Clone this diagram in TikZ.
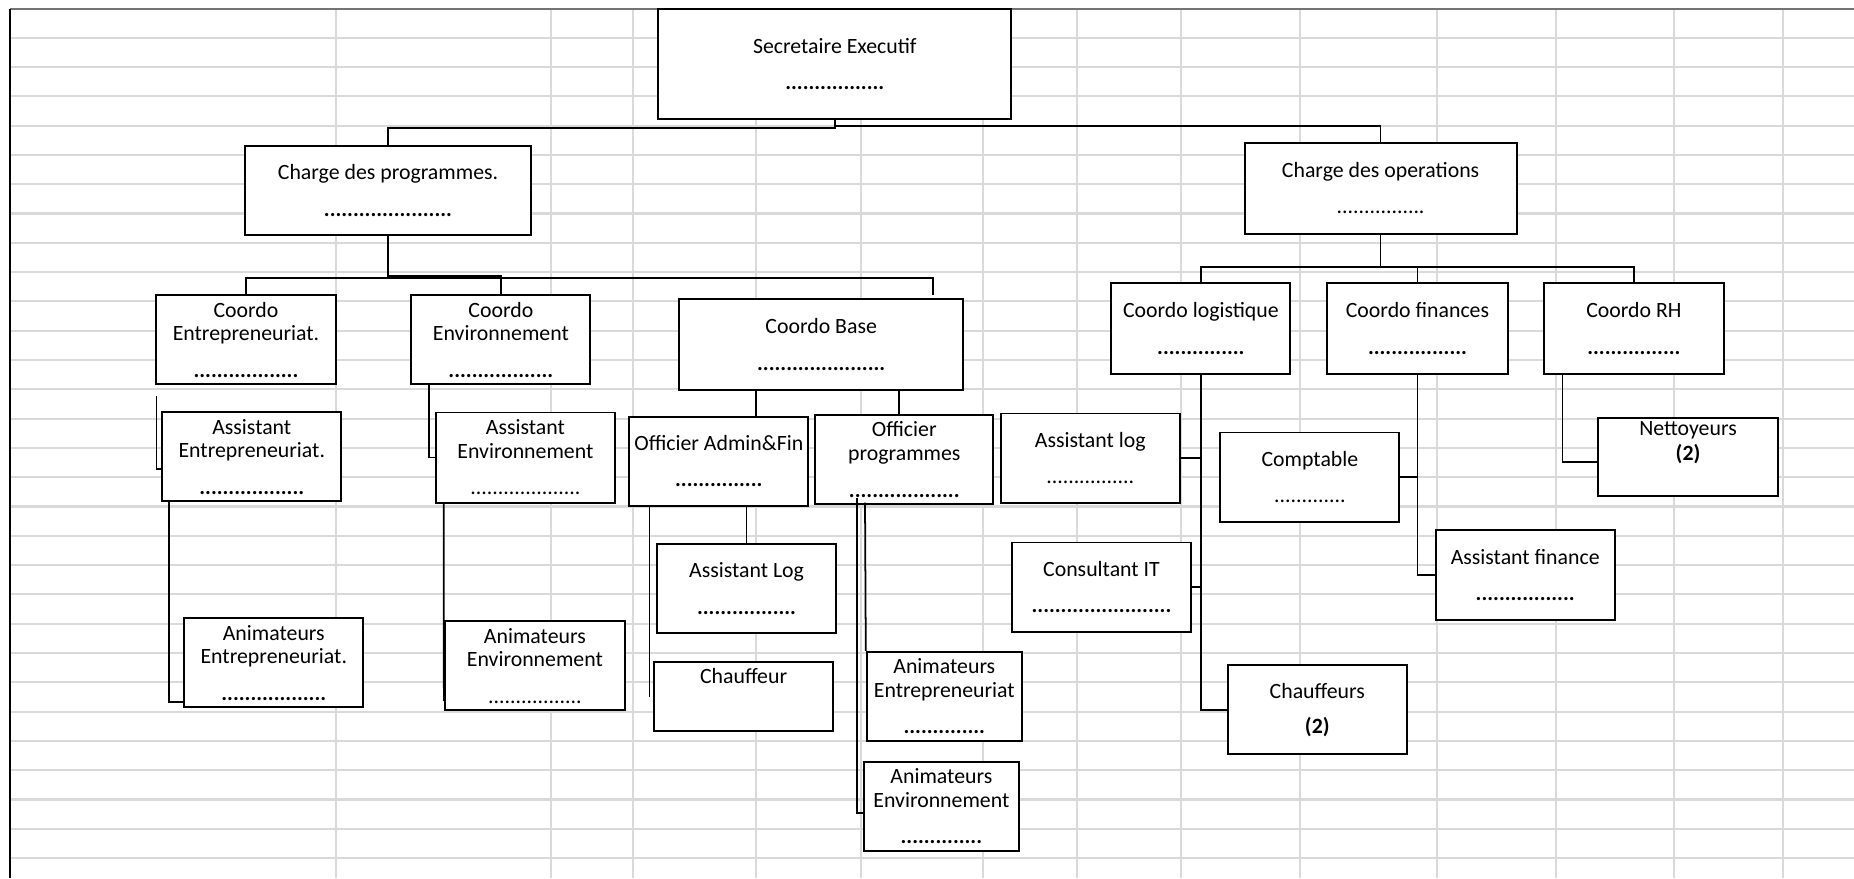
\documentclass[tikz,border=0pt]{standalone}
\usepackage{fontspec}
\setmainfont{Carlito}
\tikzset{
  box/.style={draw, fill=white, line width=0.55pt, align=center, inner sep=1pt,
    minimum width=1.79cm, minimum height=0.89cm, font=\fontsize{6.2}{6.7}\selectfont},
  link/.style={line width=0.5pt},
  gridline/.style={draw=black!15, line width=0.6pt}
}
\begin{document}
\begin{tikzpicture}[x=0.01cm, y=-0.01cm]
  \useasboundingbox (0,0) rectangle (1854,878);
  % sheet grid
  \foreach \k in {0,...,28}
    \draw[gridline] (10,37.7+29.3*\k) -- (1854,37.7+29.3*\k);
  \foreach \x in {336,551,633,756,861,983,1077,1181,1300,1437,1556,1674,1783}
    \draw[gridline] (\x,9) -- (\x,878);
  \draw[black!55, line width=0.6pt] (10,9.3) -- (1854,9.3);
  \draw[line width=0.6pt] (10,9) -- (10,878);
  % boxes
  \draw
    (834.8,64.2) node[box, minimum width=3.53cm, minimum height=1.1cm] (sec)
      {Secretaire Executif\\[3.7pt]\textbf{.................}}
    (388,190.4) node[box, minimum width=2.85cm] (prog)
      {Charge des programmes.\\[3.7pt]\textbf{......................}}
    (1380.6,188.2) node[box, minimum width=2.72cm, minimum height=0.91cm] (ops)
      {Charge des operations\\[3.7pt]................}
    (246,339.7) node[box] (coEnt)
      {Coordo\\Entrepreneuriat.\\[3.7pt]\textbf{..................}}
    (500.9,339.7) node[box] (coEnv)
      {Coordo\\Environnement\\[3.7pt]\textbf{..................}}
    (821.2,344.7) node[box, minimum width=2.84cm, minimum height=0.91cm] (coBase)
      {Coordo Base\\[3.7pt]\textbf{......................}}
    (1200.9,328.7) node[box, minimum height=0.91cm] (coLog)
      {Coordo logistique\\[3.7pt]\textbf{...............}}
    (1417.5,328.7) node[box, minimum width=1.8cm, minimum height=0.91cm] (coFin)
      {Coordo finances\\[3.7pt]\textbf{.................}}
    (1633.9,328.7) node[box, minimum width=1.8cm, minimum height=0.91cm] (coRH)
      {Coordo RH\\[3.7pt]\textbf{................}}
    (251.8,456.7) node[box] (asEnt)
      {Assistant\\Entrepreneuriat.\\[3.7pt]\textbf{..................}}
    (525.4,457.5) node[box, minimum height=0.9cm] (asEnv)
      {Assistant\\Environnement\\[3.7pt]....................}
    (718.8,461.2) node[box] (offAF)
      {Officier Admin\&Fin\\[3.7pt]\textbf{...............}}
    (904.3,459.5) node[box, minimum width=1.78cm] (offProg)
      {Officier\\programmes\\[3.7pt]\textbf{...................}}
    (1090.3,458) node[box] (asLogR)
      {Assistant log\\[3.7pt]................}
    (1309.9,477) node[box] (compta)
      {Comptable\\[3.3pt].............}
    (1688,456.7) node[box, inner sep=0pt, minimum width=1.8cm, minimum height=0.78cm] (nett)
      {Nettoyeurs\\[0.4pt]\textbf{(2)}\\[2.2pt]~}
    (746.6,588.4) node[box] (asLogB)
      {Assistant Log\\[3.7pt]\textbf{.................}}
    (743.6,696.5) node[box, minimum height=0.69cm] (chauf)
      {Chauffeur\\[5.1pt]~}
    (273.8,662.8) node[box] (animEnt1)
      {Animateurs\\Entrepreneuriat.\\[3.7pt]\textbf{..................}}
    (534.9,665.7) node[box, minimum width=1.8cm] (animEnv1)
      {Animateurs\\Environnement\\[3.7pt].................}
    (944.3,696.4) node[box, minimum width=1.55cm] (animEnt2)
      {Animateurs\\Entrepreneuriat\\[3.7pt]\textbf{..............}}
    (941.4,806.2) node[box, minimum width=1.55cm] (animEnv2)
      {Animateurs\\Environnement\\[3.7pt]\textbf{..............}}
    (1101.5,587) node[box] (consIT)
      {Consultant IT\\[3.7pt]\textbf{........................}}
    (1525.2,575.2) node[box, minimum height=0.9cm] (asFin)
      {Assistant finance\\[3.7pt]\textbf{.................}}
    (1317.3,709.8) node[box] (chaufs)
      {Chauffeurs\\[3.3pt]\textbf{(2)}};
  % links
  \begin{scope}[link]
    \draw (sec.south) -- ++(0,8) -| (prog.north);
    \draw (sec.south) -- ++(0,6) -| (ops.north);
    \draw (prog.south) -- ++(0,42) -| (coEnt.north);
    \draw (prog.south) -- ++(0,40) -| (coEnv.north);
    \draw (prog.south) -- ++(0,42) -| ([xshift=-0.31cm,yshift=0.03cm]coBase.north east);
    \draw (ops.south) -- ++(0,32) -| (coLog.north);
    \draw (ops.south) -- ++(0,32) -| (coFin.north);
    \draw (ops.south) -- ++(0,32) -| (coRH.north);
    \draw ([shift={(0.01cm,-0.11cm)}]coEnt.south west) |- ([yshift=-0.126cm]asEnt.west);
    \draw ([xshift=0.077cm]asEnt.south west) |- ([yshift=-0.395cm]animEnt1.west);
    \draw ([xshift=0.184cm]coEnv.south west) |- (asEnv.west);
    \draw ([xshift=0.089cm]asEnv.south west) -- ([yshift=0.1cm]animEnv1.south west);
    \draw ([xshift=0.777cm]coBase.south west) -- ([xshift=0.777cm]coBase.south west |- offAF.north);
    \draw ([xshift=2.21cm]coBase.south west) -- ([xshift=2.21cm]coBase.south west |- offProg.north);
    \draw (asLogB.north |- offAF.south) -- (asLogB.north);
    \draw ([xshift=0.212cm]offAF.south west) -- ([xshift=0.212cm]offAF.south west |- chauf.west);
    \draw ([shift={(0.424cm,0.067cm)}]offProg.south west) |- ([yshift=-0.07cm]animEnv2.west);
    \draw ([shift={(0.507cm,0.023cm)}]offProg.south west) -- (animEnt2.north west);
    \draw (coLog.south) |- (chaufs.west);
    \draw (asLogR.east) -- (asLogR.east -| coLog.south);
    \draw (consIT.east) -- (consIT.east -| coLog.south);
    \draw (coFin.south) |- (asFin.west);
    \draw (compta.east) -- (compta.east -| coFin.south);
    \draw ([xshift=0.195cm]coRH.south west) |- ([yshift=-0.05cm]nett.west);
  \end{scope}
\end{tikzpicture}
\end{document}
